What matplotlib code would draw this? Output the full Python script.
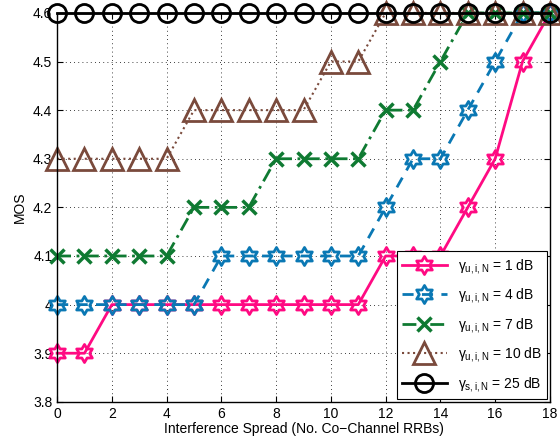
import numpy as np
import matplotlib
matplotlib.use('Agg')
import matplotlib.pyplot as plt
from matplotlib.path import Path

plt.rcParams['font.family'] = ['Liberation Sans', 'DejaVu Sans']
plt.rcParams['mathtext.fontset'] = 'custom'
plt.rcParams['mathtext.rm'] = 'Liberation Sans'
plt.rcParams['mathtext.it'] = 'Liberation Sans'

# interference spread (number of co-channel RRBs)
spread = list(range(19))

# MOS per SINR threshold
mos_1db = [3.9, 3.9, 4.0, 4.0, 4.0, 4.0, 4.0, 4.0, 4.0, 4.0, 4.0, 4.0,
           4.1, 4.1, 4.1, 4.2, 4.3, 4.5, 4.6]
mos_4db = [4.0, 4.0, 4.0, 4.0, 4.0, 4.0, 4.1, 4.1, 4.1, 4.1, 4.1, 4.1,
           4.2, 4.3, 4.3, 4.4, 4.5, 4.6, 4.6]
mos_7db = [4.1, 4.1, 4.1, 4.1, 4.1, 4.2, 4.2, 4.2, 4.3, 4.3, 4.3, 4.3,
           4.4, 4.4, 4.5, 4.6, 4.6, 4.6, 4.6]
mos_10db = [4.3, 4.3, 4.3, 4.3, 4.3, 4.4, 4.4, 4.4, 4.4, 4.4, 4.5, 4.5,
            4.6, 4.6, 4.6, 4.6, 4.6, 4.6, 4.6]
mos_25db = [4.6] * 19

labels = [r'$\gamma_{u,i,N}$ = 1 dB', r'$\gamma_{u,i,N}$ = 4 dB',
          r'$\gamma_{u,i,N}$ = 7 dB', r'$\gamma_{u,i,N}$ = 10 dB',
          r'$\gamma_{s,i,N}$ = 25 dB']

# hexagram marker like matlab
hexa = Path.unit_regular_star(6, innerCircle=0.577)

pink = '#ff0a82'
blue = '#0a78b4'
green = '#0f7a32'
brown = '#7a4a3c'

fig = plt.figure(figsize=(5.6, 4.45), dpi=100)
ax = fig.add_axes([0.102, 0.097, 0.880, 0.874])

ax.plot(spread, mos_1db, '-', color=pink, lw=2, marker=hexa, ms=13,
        mfc='none', mew=2, label=labels[0], clip_on=False)
ax.plot(spread, mos_4db, '--', color=blue, lw=2, marker=hexa, ms=13,
        mfc='none', mew=2, label=labels[1], dashes=(4, 3), clip_on=False)
ax.plot(spread, mos_7db, '-.', color=green, lw=2, marker='x', ms=10,
        mew=2.5, label=labels[2], dashes=(5, 2, 1, 2), clip_on=False)
ax.plot(spread, mos_10db, ':', color=brown, lw=1.5, marker='^', ms=16,
        mfc='none', mew=2, label=labels[3], clip_on=False)
ax.plot(spread, mos_25db, '-', color='black', lw=2, marker='o', ms=13,
        mfc='none', mew=2, label=labels[4], clip_on=False)

ax.set_xlim(0, 18)
ax.set_ylim(3.8, 4.6)
ax.set_xticks(np.arange(0, 19, 2))
ax.set_yticks([3.8, 3.9, 4.0, 4.1, 4.2, 4.3, 4.4, 4.5, 4.6])
ax.set_yticklabels(['3.8', '3.9', '4', '4.1', '4.2', '4.3', '4.4', '4.5', '4.6'])
ax.grid(True, color='black', linestyle=(0, (1, 4)), lw=0.6)
ax.tick_params(direction='in', top=True, right=True, labelsize=10, length=4)
for s in ax.spines.values():
    s.set_linewidth(1)

ax.set_xlabel('Interference Spread (No. Co\u2212Channel RRBs)', fontsize=10, labelpad=1)
ax.set_ylabel('MOS', fontsize=10)

leg = ax.legend(loc='lower right', fontsize=10, fancybox=False,
                edgecolor='black', framealpha=1, handlelength=3.2,
                borderaxespad=0.2, labelspacing=0.75)
leg.get_frame().set_linewidth(0.8)
leg.set_zorder(5)

fig.savefig('out.png', dpi=100)
